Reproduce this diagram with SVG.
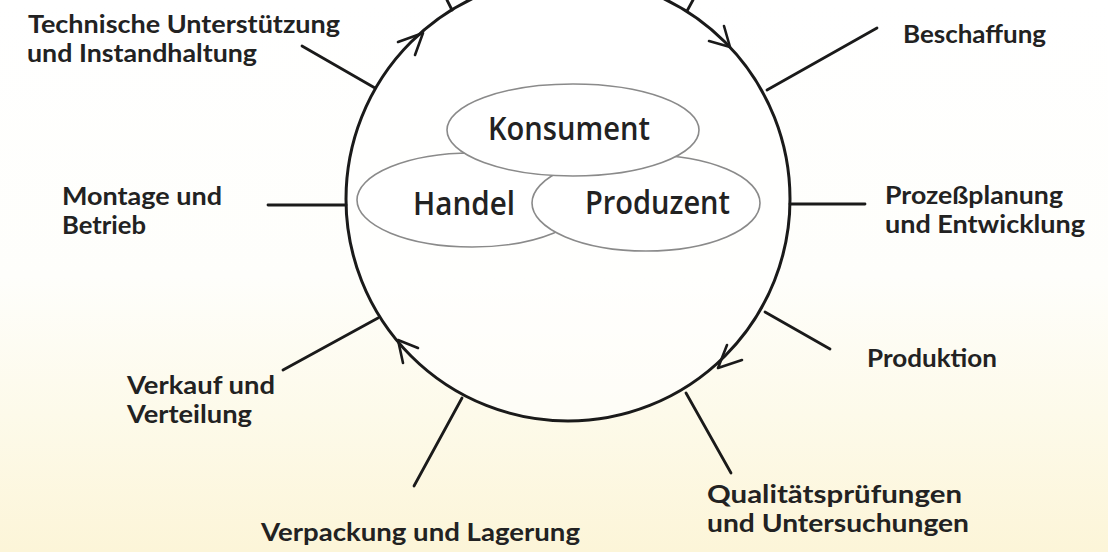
<svg xmlns="http://www.w3.org/2000/svg" width="1108" height="552" viewBox="0 0 1108 552">
<defs>
<linearGradient id="bg" x1="0" y1="0" x2="0" y2="1">
<stop offset="0" stop-color="#ffffff"/>
<stop offset="0.5" stop-color="#fefefb"/>
<stop offset="0.75" stop-color="#fdfaea"/>
<stop offset="1" stop-color="#fcf5d8"/>
</linearGradient>
<style>
.lbl{font-family:Lato,"Open Sans","Liberation Sans",sans-serif;font-weight:700;font-size:24px;fill:#222;}
.low{font-family:Lato,"Open Sans","Liberation Sans",sans-serif;font-weight:700;font-size:24px;fill:#222;}
.in{font-family:"Open Sans","Liberation Sans",sans-serif;font-weight:600;font-size:32px;fill:#222;}
.ell{fill:#ffffff;stroke:#8a8a8a;stroke-width:1.6;}
.ln{stroke:#1a1a1a;stroke-width:2.8;fill:none;stroke-linecap:round;}
.arr{stroke:#1a1a1a;stroke-width:2.6;fill:none;stroke-linecap:round;stroke-linejoin:round;}
</style>
</defs>
<rect width="1108" height="552" fill="url(#bg)"/>
<g id="cycle">
<circle cx="568" cy="199" r="222" fill="#ffffff" fill-opacity="0.6" stroke="#1a1a1a" stroke-width="3"/>
</g>
<g id="connectors">
<line class="ln" x1="375" y1="88" x2="302" y2="46"/>
<line class="ln" x1="452" y1="10" x2="447" y2="0"/>
<line class="ln" x1="687" y1="11" x2="693" y2="0"/>
<line class="ln" x1="767" y1="90" x2="877" y2="28"/>
<line class="ln" x1="790" y1="204" x2="865" y2="204"/>
<line class="ln" x1="346" y1="205" x2="268" y2="205"/>
<line class="ln" x1="765" y1="312" x2="830" y2="349"/>
<line class="ln" x1="686" y1="393" x2="731" y2="473"/>
<line class="ln" x1="462" y1="398" x2="414" y2="486"/>
<line class="ln" x1="378" y1="318" x2="283" y2="370"/>
<polyline class="arr" points="398,42 423,33 415,55"/>
<polyline class="arr" points="709,41 730,47 724,26"/>
<polyline class="arr" points="742,360 718,368 727,345"/>
<polyline class="arr" points="418,348 398,340 403,363"/>
</g>
<g id="handel">
<ellipse class="ell" cx="472" cy="200" rx="115" ry="47"/>
<text class="in" x="413" y="215" textLength="102" lengthAdjust="spacingAndGlyphs">Handel</text>
</g>
<g id="produzent">
<ellipse class="ell" cx="646" cy="203" rx="114" ry="48"/>
<text class="in" x="585" y="214" textLength="145" lengthAdjust="spacingAndGlyphs">Produzent</text>
</g>
<g id="konsument">
<ellipse class="ell" cx="573" cy="130" rx="126" ry="46"/>
<text class="in" x="488" y="140" textLength="162" lengthAdjust="spacingAndGlyphs">Konsument</text>
</g>
<g id="technische">
<text class="lbl" x="28" y="33" textLength="312" lengthAdjust="spacingAndGlyphs">Technische Unterstützung</text>
<text class="lbl" x="27" y="62" textLength="230" lengthAdjust="spacingAndGlyphs">und Instandhaltung</text>
</g>
<g id="beschaffung">
<text class="lbl" x="903" y="43" textLength="143" lengthAdjust="spacingAndGlyphs">Beschaffung</text>
</g>
<g id="prozessplanung">
<text class="lbl" x="885" y="204" textLength="178" lengthAdjust="spacingAndGlyphs">Prozeßplanung</text>
<text class="lbl" x="885" y="233" textLength="200" lengthAdjust="spacingAndGlyphs">und Entwicklung</text>
</g>
<g id="montage">
<text class="lbl" x="62" y="205" textLength="160" lengthAdjust="spacingAndGlyphs">Montage und</text>
<text class="lbl" x="62" y="234" textLength="84" lengthAdjust="spacingAndGlyphs">Betrieb</text>
</g>
<g id="produktion">
<text class="lbl" x="867" y="367" textLength="130" lengthAdjust="spacingAndGlyphs">Produktion</text>
</g>
<g id="verkauf">
<text class="lbl" x="127" y="394" textLength="148" lengthAdjust="spacingAndGlyphs">Verkauf und</text>
<text class="lbl" x="127" y="423" textLength="125" lengthAdjust="spacingAndGlyphs">Verteilung</text>
</g>
<g id="qualitaet">
<text class="low" x="707" y="503" textLength="255" lengthAdjust="spacingAndGlyphs">Qualitätsprüfungen</text>
<text class="low" x="707" y="532" textLength="262" lengthAdjust="spacingAndGlyphs">und Untersuchungen</text>
</g>
<g id="verpackung">
<text class="low" x="261" y="541" textLength="319" lengthAdjust="spacingAndGlyphs">Verpackung und Lagerung</text>
</g>
</svg>
